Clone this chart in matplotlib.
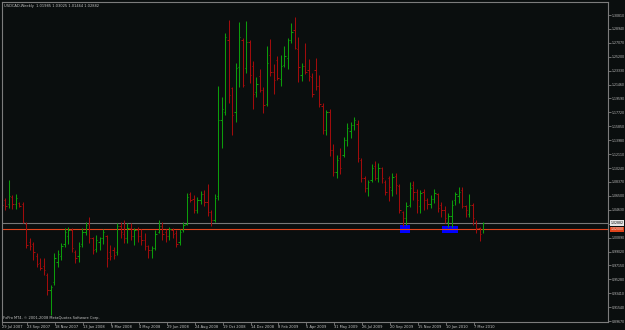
import matplotlib
matplotlib.use("Agg")
import matplotlib.pyplot as plt
import matplotlib.transforms as mtransforms
from matplotlib.patches import Rectangle
import numpy as np

# ---------------- data ----------------
header_text = "USDCAD,Weekly  1.01985 1.03025 1.01464 1.02882"
footer_text = "FxPro MT4, \u00a9 2001-2008 MetaQuotes Software Corp."

opens = [1.0662, 1.0595, 1.0541, 1.0635, 1.0541, 1.0560, 1.0541, 1.0272, 1.0030, 1.0004,
         0.9842, 0.9748, 0.9708, 0.9587, 0.9385, 0.9493, 0.9762, 0.9842, 1.0004, 1.0111,
         1.0192, 0.9896, 0.9842, 1.0004, 1.0165, 1.0272, 1.0084, 0.9936, 1.0030, 1.0084,
         1.0111, 0.9896, 0.9923, 0.9896, 1.0246, 1.0138, 1.0084, 1.0219, 1.0111, 1.0192,
         1.0111, 1.0057, 0.9977, 0.9923, 0.9950, 1.0165, 1.0246, 1.0165, 1.0111, 1.0192,
         1.0151, 1.0030, 1.0192, 1.0272, 1.0676, 1.0608, 1.0461, 1.0595, 1.0676, 1.0568,
         1.0434, 1.0326, 1.0649, 1.1670, 1.1778, 1.2745, 1.2100, 1.1778, 1.2383, 1.2745,
         1.2369, 1.2719, 1.2396, 1.2047, 1.2262, 1.2074, 1.1885, 1.2543, 1.2315, 1.2477,
         1.2221, 1.2409, 1.2504, 1.2745, 1.2880, 1.2625, 1.2275, 1.2396, 1.2342, 1.2248,
         1.2342, 1.2127, 1.1858, 1.1536, 1.1778, 1.1267, 1.0971, 1.1159, 1.1199, 1.1401,
         1.1522, 1.1603, 1.1616, 1.1133, 1.0891, 1.0756, 1.0864, 1.1052, 1.0891, 1.1025,
         1.0837, 1.0891, 1.0729, 1.0918, 1.0783, 1.0434, 1.0353, 1.0527, 1.0797, 1.0702,
         1.0514, 1.0702, 1.0595, 1.0541, 1.0608, 1.0676, 1.0527, 1.0461, 1.0299, 1.0380,
         1.0595, 1.0649, 1.0729, 1.0514, 1.0407, 1.0527, 1.0299, 1.0219, 1.0199]
highs = [1.0702, 1.0622, 1.0864, 1.0662, 1.0676, 1.0572, 1.0568, 1.0299, 1.0084, 1.0030,
         0.9882, 0.9815, 0.9815, 0.9614, 0.9452, 0.9882, 0.9923, 1.0017, 1.0219, 1.0232,
         1.0219, 0.9923, 1.0030, 1.0219, 1.0299, 1.0367, 1.0098, 1.0124, 1.0098, 1.0205,
         1.0124, 0.9990, 0.9963, 1.0286, 1.0299, 1.0326, 1.0286, 1.0286, 1.0219, 1.0232,
         1.0205, 1.0151, 0.9990, 0.9977, 1.0192, 1.0326, 1.0299, 1.0205, 1.0232, 1.0219,
         1.0192, 1.0205, 1.0299, 1.0689, 1.0702, 1.0662, 1.0635, 1.0716, 1.0729, 1.0810,
         1.0461, 1.0676, 1.2127, 1.1979, 1.2840, 1.3014, 1.2114, 1.2436, 1.2987, 1.2772,
         1.3001, 1.2745, 1.2463, 1.2248, 1.2356, 1.2114, 1.2665, 1.2759, 1.2423, 1.2530,
         1.2543, 1.2665, 1.2772, 1.2974, 1.3054, 1.2786, 1.2436, 1.2705, 1.2490, 1.2302,
         1.2504, 1.2275, 1.1898, 1.1805, 1.1818, 1.1348, 1.1199, 1.1294, 1.1442, 1.1630,
         1.1643, 1.1710, 1.1670, 1.1159, 1.0918, 1.0864, 1.1079, 1.1119, 1.1092, 1.1039,
         1.0864, 1.0918, 1.0958, 1.0958, 1.0810, 1.0447, 1.0568, 1.0837, 1.0850, 1.0743,
         1.0729, 1.0743, 1.0622, 1.0662, 1.0743, 1.0689, 1.0568, 1.0514, 1.0420, 1.0595,
         1.0702, 1.0770, 1.0770, 1.0527, 1.0676, 1.0555, 1.0326, 1.0232, 1.0303]
lows = [1.0488, 1.0461, 1.0488, 1.0474, 1.0474, 1.0505, 1.0286, 0.9950, 0.9923, 0.9789,
        0.9694, 0.9654, 0.9587, 0.9318, 0.9049, 0.9452, 0.9694, 0.9789, 0.9963, 1.0004,
        0.9896, 0.9748, 0.9762, 0.9963, 1.0124, 1.0017, 0.9869, 0.9896, 0.9923, 1.0004,
        0.9694, 0.9789, 0.9802, 0.9855, 1.0084, 1.0017, 1.0017, 1.0057, 0.9990, 1.0030,
        0.9990, 0.9923, 0.9815, 0.9815, 0.9923, 1.0151, 1.0057, 1.0030, 1.0057, 1.0084,
        0.9963, 0.9990, 1.0165, 1.0259, 1.0568, 1.0420, 1.0420, 1.0541, 1.0514, 1.0380,
        1.0246, 1.0299, 1.0595, 1.1294, 1.1737, 1.1899, 1.1468, 1.1643, 1.2114, 1.2114,
        1.2302, 1.2167, 1.1818, 1.1979, 1.2047, 1.1764, 1.1858, 1.2262, 1.2020, 1.2208,
        1.2127, 1.2383, 1.2356, 1.2705, 1.2625, 1.2181, 1.2194, 1.2289, 1.2194, 1.1979,
        1.2074, 1.1845, 1.1482, 1.1468, 1.1186, 1.0918, 1.0891, 1.0944, 1.1173, 1.1321,
        1.1428, 1.1536, 1.1106, 1.0837, 1.0702, 1.0649, 1.0837, 1.0864, 1.0837, 1.0824,
        1.0662, 1.0585, 1.0649, 1.0676, 1.0420, 1.0246, 1.0259, 1.0501, 1.0595, 1.0420,
        1.0420, 1.0461, 1.0474, 1.0488, 1.0555, 1.0434, 1.0367, 1.0286, 1.0232, 1.0232,
        1.0527, 1.0555, 1.0488, 1.0367, 1.0367, 1.0259, 1.0151, 1.0044, 1.0146]
closes = [1.0528, 1.0514, 1.0649, 1.0541, 1.0622, 1.0520, 1.0299, 0.9990, 0.9977, 0.9896,
          0.9735, 0.9681, 0.9654, 0.9385, 0.9430, 0.9815, 0.9869, 0.9977, 1.0165, 1.0192,
          0.9950, 0.9815, 0.9977, 1.0165, 1.0259, 1.0084, 0.9923, 1.0057, 1.0084, 1.0165,
          0.9815, 0.9842, 0.9855, 1.0246, 1.0165, 1.0084, 1.0219, 1.0111, 1.0192, 1.0111,
          1.0057, 0.9977, 0.9923, 0.9950, 1.0138, 1.0246, 1.0138, 1.0111, 1.0205, 1.0138,
          1.0004, 1.0165, 1.0259, 1.0635, 1.0595, 1.0461, 1.0595, 1.0676, 1.0568, 1.0434,
          1.0326, 1.0622, 1.1670, 1.1818, 1.2786, 1.2006, 1.1737, 1.2369, 1.2786, 1.2140,
          1.2719, 1.2275, 1.2020, 1.2154, 1.2074, 1.1871, 1.2436, 1.2315, 1.2208, 1.2235,
          1.2396, 1.2530, 1.2745, 1.2853, 1.2638, 1.2383, 1.2396, 1.2315, 1.2262, 1.2020,
          1.2127, 1.1885, 1.1536, 1.1778, 1.1267, 1.0971, 1.1133, 1.1025, 1.1401, 1.1563,
          1.1603, 1.1670, 1.1159, 1.0891, 1.0756, 1.0837, 1.1025, 1.0891, 1.1025, 1.0891,
          1.0702, 1.0770, 1.0904, 1.0797, 1.0461, 1.0353, 1.0514, 1.0756, 1.0702, 1.0595,
          1.0689, 1.0595, 1.0541, 1.0608, 1.0689, 1.0488, 1.0461, 1.0353, 1.0380, 1.0527,
          1.0676, 1.0702, 1.0514, 1.0461, 1.0527, 1.0353, 1.0219, 1.0138, 1.0288]

date_labels = ["29 Jul 2007", "23 Sep 2007", "18 Nov 2007", "13 Jan 2008", "9 Mar 2008",
               "4 May 2008", "29 Jun 2008", "24 Aug 2008", "19 Oct 2008", "14 Dec 2008",
               "8 Feb 2009", "5 Apr 2009", "31 May 2009", "26 Jul 2009", "20 Sep 2009",
               "15 Nov 2009", "10 Jan 2010", "7 Mar 2010"]
label_weeks = [0, 8, 16, 24, 32, 40, 48, 56, 64, 72, 80, 88, 96, 104, 112, 120, 128, 136]

price_ticks = [1.30810, 1.28940, 1.27070, 1.25200, 1.23330, 1.21460, 1.19590, 1.17720,
               1.15850, 1.13980, 1.12110, 1.10240, 1.08370, 1.06500, 1.04630, 1.02760,
               1.00890, 0.99020, 0.97150, 0.95280, 0.93410, 0.91540, 0.89670]

bid_price = 1.02882
level_price = 1.02000

zone_start = [114.1, 126.2]
zone_end = [117.0, 130.95]
zone_low = [1.0155, 1.0155]
zone_high = [1.0259, 1.0246]

# ---------------- style ----------------
W, H = 625, 330
bg = "#0a0e0e"
frame = "#7c7c7c"
txt = "#c4c4c4"
bull = "#0c9c0c"
bear = "#a00c0c"
fs = 2.6
fs_y = 2.25

fig = plt.figure(figsize=(W / 100, H / 100), dpi=100)
fig.patch.set_facecolor(bg)
ax = fig.add_axes([2 / W, 8 / H, 606 / W, 320 / H])
ax.set_facecolor(bg)

spacing = 3.486  # px per bar
ax.set_xlim(0.0, 606 / spacing)
ax.set_ylim(0.8955, 1.3256)

idx = np.arange(len(opens))
o = np.array(opens); h = np.array(highs); l = np.array(lows); c = np.array(closes)
cols = [bull if cc >= oo else bear for oo, cc in zip(o, c)]

for xs, xe, yl, yh in zip(zone_start, zone_end, zone_low, zone_high):
    ax.add_patch(Rectangle((xs, yl), xe - xs, yh - yl, facecolor="#0000ff",
                           edgecolor="none", zorder=1))

ax.axhline(bid_price, color="#787878", lw=0.8, zorder=1.5)
ax.axhline(level_price, color="#e0441c", lw=0.8, zorder=1.5)

lw = 0.75
ax.vlines(idx, l, h, colors=cols, lw=lw, zorder=2)
ax.hlines(o, idx - 0.38, idx, colors=cols, lw=lw, zorder=2)
ax.hlines(c, idx, idx + 0.38, colors=cols, lw=lw, zorder=2)

for s in ax.spines.values():
    s.set_color(frame)
    s.set_linewidth(0.8)

# price scale on the right; the label hidden under the bid box in the reference is left blank
ax.yaxis.tick_right()
ax.set_yticks(price_ticks)
ax.set_yticklabels(["" if abs(v - bid_price) < 0.004 else f"{v:.5f}" for v in price_ticks])
ax.tick_params(axis="y", colors=frame, labelcolor=txt, length=2.0, width=0.6,
               labelsize=fs_y, pad=0.8)

xt = [max(w - 0.69, 0.0) for w in label_weeks]
ax.set_xticks(xt)
ax.set_xticklabels(date_labels)
ax.tick_params(axis="x", colors=frame, labelcolor=txt, length=2.0, width=0.6,
               labelsize=fs, pad=0.3)
for lbl in ax.get_xticklabels():
    lbl.set_ha("left")

tr = mtransforms.blended_transform_factory(ax.transAxes, ax.transData)
ax.text(1.0 + 2.5 / 606, bid_price, f"{bid_price:.5f}", transform=tr, ha="left",
        va="center", fontsize=fs_y, color="#000000", zorder=5, clip_on=False,
        bbox=dict(facecolor="#e6e6e6", edgecolor="none", pad=0.6))
ax.text(1.0 + 2.5 / 606, level_price, f"{level_price:.5f}", transform=tr, ha="left",
        va="center", fontsize=fs_y, color="#f0f0f0", zorder=5, clip_on=False,
        bbox=dict(facecolor="#e0441c", edgecolor="none", pad=0.6))

fig.text(4 / W, 1 - 5.5 / H, header_text, fontsize=fs, color=txt, va="center", ha="left")
fig.text(3 / W, 1 - 318.5 / H, footer_text, fontsize=fs, color=txt, va="center", ha="left")

fig.savefig("out.png", dpi=100, facecolor=bg)
